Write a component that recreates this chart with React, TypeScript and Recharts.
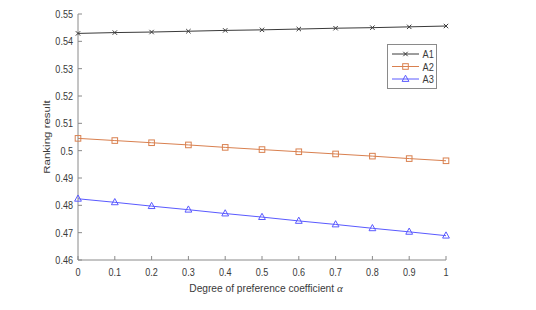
import { LineChart, Line, XAxis, YAxis } from 'recharts';

const ALPHA = [0, 0.1, 0.2, 0.3, 0.4, 0.5, 0.6, 0.7, 0.8, 0.9, 1];
const A1 = [0.5429, 0.5432, 0.5434, 0.5437, 0.544, 0.5442, 0.5445, 0.5448, 0.545, 0.5453, 0.5456];
const A2 = [0.5045, 0.5037, 0.5029, 0.5021, 0.5012, 0.5004, 0.4996, 0.4988, 0.498, 0.4971, 0.4963];
const A3 = [0.4824, 0.4811, 0.4797, 0.4784, 0.477, 0.4757, 0.4743, 0.473, 0.4716, 0.4703, 0.4689];
const Y_TICKS = [0.46, 0.47, 0.48, 0.49, 0.5, 0.51, 0.52, 0.53, 0.54, 0.55];

const data = ALPHA.map((a, i) => ({ alpha: a, A1: A1[i], A2: A2[i], A3: A3[i] }));

const FONT = '"Liberation Sans", Arial, sans-serif';
const AXIS = '#8a8a8a';
const TEXT = '#3a3a3a';
const C1 = '#3a3a3a';
const C2 = '#d9804f';
const C3 = '#5a5aff';
const SQUISH = 0.84; // tick text in the source is a little narrow

const fmt = (v: number) => String(Number(v.toFixed(2)));

// text squeezed horizontally around its anchor point
function NText({ x, y, anchor, size = 10.8, children }: any) {
  return (
    <text
      x={0}
      y={0}
      transform={`translate(${x},${y}) scale(${SQUISH},1)`}
      textAnchor={anchor}
      fontSize={size}
      fill={TEXT}
      fontFamily={FONT}
    >
      {children}
    </text>
  );
}

function Marker({ kind, cx, cy, color }: { kind: string; cx: number; cy: number; color: string }) {
  if (kind === 'x') {
    const s = 2.2;
    return (
      <g stroke={color} strokeWidth={1}>
        <line x1={cx - s} y1={cy - s} x2={cx + s} y2={cy + s} />
        <line x1={cx - s} y1={cy + s} x2={cx + s} y2={cy - s} />
      </g>
    );
  }
  if (kind === 'sq') {
    return <rect x={cx - 2.8} y={cy - 2.8} width={5.6} height={5.6} fill="none" stroke={color} strokeWidth={1} />;
  }
  return (
    <polygon
      points={`${cx},${cy - 3.8} ${cx - 3.4},${cy + 2.4} ${cx + 3.4},${cy + 2.4}`}
      fill="none"
      stroke={color}
      strokeWidth={1}
    />
  );
}

const dotFn = (kind: string, color: string) => (p: any) =>
  <Marker key={`${kind}-${p.index}`} kind={kind} cx={p.cx} cy={p.cy} color={color} />;

function LegendBox() {
  const rows = [
    { name: 'A1', kind: 'x', color: C1 },
    { name: 'A2', kind: 'sq', color: C2 },
    { name: 'A3', kind: 'tri', color: C3 },
  ];
  return (
    <svg width={50} height={46} style={{ display: 'block' }}>
      <rect x={0.5} y={0.5} width={49} height={44} fill="#fff" stroke={AXIS} />
      {rows.map((r, i) => {
        const y = 10 + i * 12.5;
        return (
          <g key={r.name}>
            <line x1={5} y1={y} x2={32} y2={y} stroke={r.color} strokeWidth={1} />
            <Marker kind={r.kind} cx={18.5} cy={y} color={r.color} />
            <NText x={35.5} y={y + 4} anchor="start" size={11}>{r.name}</NText>
          </g>
        );
      })}
    </svg>
  );
}

export default function App() {
  return (
    <div style={{ position: 'absolute', left: 0, top: 0, width: 536, height: 310, background: '#fff' }}>
      <LineChart width={536} height={310} data={data} margin={{ top: 14, right: 90, bottom: 20, left: 0 }}>
        <XAxis
          dataKey="alpha"
          type="number"
          domain={[0, 1]}
          ticks={ALPHA}
          tickFormatter={fmt}
          height={30}
          stroke={AXIS}
          tickSize={-4}
          tickMargin={10}
          interval={0}
          tick={(p: any) => (
            <NText key={p.index} x={p.x} y={p.y + 10} anchor="middle">{fmt(p.payload.value)}</NText>
          )}
          label={{
            content: (p: any) => {
              const vb = p.viewBox;
              return (
                <text x={vb.x + vb.width / 2 + 4} y={292} textAnchor="middle" fontSize={10.2} fill={TEXT} fontFamily={FONT}>
                  Degree of preference coefficient{' '}
                  <tspan fontStyle="italic" fontFamily='"Liberation Serif", serif' fontSize={11}>α</tspan>
                </text>
              );
            },
          }}
        />
        <XAxis
          xAxisId="top"
          orientation="top"
          type="number"
          domain={[0, 1]}
          ticks={ALPHA}
          tick={() => <g />}
          height={0}
          stroke={AXIS}
          tickSize={-4}
          interval={0}
          allowDataOverflow
        />
        <YAxis
          type="number"
          domain={[0.46, 0.55]}
          ticks={Y_TICKS}
          width={78}
          stroke={AXIS}
          tickSize={-4}
          tickMargin={9}
          interval={0}
          allowDataOverflow
          tick={(p: any) => (
            <NText key={p.index} x={p.x} y={p.y + 4} anchor="end">{fmt(p.payload.value)}</NText>
          )}
          label={{
            content: (p: any) => {
              const vb = p.viewBox;
              const cy = vb.y + vb.height / 2;
              return (
                <text x={0} y={0} transform={`translate(50,${cy}) rotate(-90) scale(1,${SQUISH})`}
                  textAnchor="middle" fontSize={11.5} fill={TEXT} fontFamily={FONT}>
                  Ranking result
                </text>
              );
            },
          }}
        />
        <YAxis
          yAxisId="right"
          orientation="right"
          type="number"
          domain={[0.46, 0.55]}
          ticks={Y_TICKS}
          tick={() => <g />}
          width={0}
          stroke={AXIS}
          tickSize={-4}
          interval={0}
          allowDataOverflow
        />
        <Line type="linear" dataKey="A1" stroke={C1} strokeWidth={1} dot={dotFn('x', C1)} isAnimationActive={false} />
        <Line type="linear" dataKey="A2" stroke={C2} strokeWidth={1} dot={dotFn('sq', C2)} isAnimationActive={false} />
        <Line type="linear" dataKey="A3" stroke={C3} strokeWidth={1} dot={dotFn('tri', C3)} isAnimationActive={false} />
      </LineChart>
      <div style={{ position: 'absolute', left: 387, top: 44 }}>
        <LegendBox />
      </div>
    </div>
  );
}
